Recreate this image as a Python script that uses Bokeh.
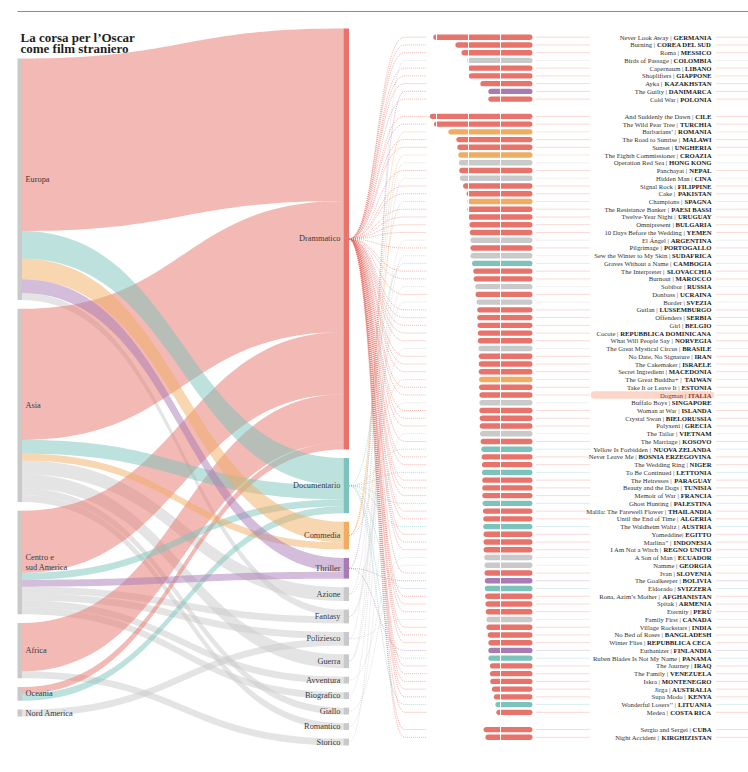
import numpy as np
from bokeh.plotting import figure
from bokeh.models import Range1d
from bokeh.core.properties import value
from bokeh.embed import file_html
from bokeh.resources import INLINE

# ---------------- data ----------------
titles = [
    "Never Look Away", "Burning", "Roma", "Birds of Passage", "Capernaum", "Shoplifters", "Ayka",
    "The Guilty", "Cold War",
    "And Suddenly the Dawn", "The Wild Pear Tree", "Barbarians’", "The Road to Sunrise", "Sunset",
    "The Eighth Commissioner", "Operation Red Sea", "Panchayat", "Hidden Man", "Signal Rock", "Cake",
    "Champions", "The Resistance Banker", "Twelve-Year Night", "Omnipresent",
    "10 Days Before the Wedding", "El Ángel", "Pilgrimage", "Sew the Winter to My Skin",
    "Graves Without a Name", "The Interpreter", "Burnout", "Sobibor", "Donbass", "Border", "Gutlan",
    "Offenders", "Girl", "Cocote", "What Will People Say", "The Great Mystical Circus",
    "No Date, No Signature", "The Cakemaker", "Secret Ingredient", "The Great Buddha+",
    "Take It or Leave It", "Dogman", "Buffalo Boys", "Woman at War", "Crystal Swan", "Polyxeni",
    "The Tailor", "The Marriage", "Yellow Is Forbidden", "Never Leave Me", "The Wedding Ring",
    "To Be Continued", "The Heiresses", "Beauty and the Dogs", "Memoir of War", "Ghost Hunting",
    "Malila: The Farewell Flower", "Until the End of Time", "The Waldheim Waltz", "Yomeddine",
    "Marlina’’", "I Am Not a Witch", "A Son of Man", "Namme", "Ivan", "The Goalkeeper", "Eldorado",
    "Rona, Azim’s Mother", "Spitak", "Eternity", "Family First", "Village Rockstars",
    "No Bed of Roses", "Winter Flies", "Euthanizer", "Ruben Blades Is Not My Name", "The Journey",
    "The Family", "Iskra", "Jirga", "Supa Modo", "Wonderful Losers’’", "Medea",
    "Sergio and Sergei", "Night Accident",
]
countries = [
    "GERMANIA", "COREA DEL SUD", "MESSICO", "COLOMBIA", "LIBANO", "GIAPPONE", "KAZAKHSTAN",
    "DANIMARCA", "POLONIA",
    "CILE", "TURCHIA", "ROMANIA", "MALAWI", "UNGHERIA", "CROAZIA", "HONG KONG", "NEPAL", "CINA",
    "FILIPPINE", "PAKISTAN", "SPAGNA", "PAESI BASSI", "URUGUAY", "BULGARIA", "YEMEN", "ARGENTINA",
    "PORTOGALLO", "SUDAFRICA", "CAMBOGIA", "SLOVACCHIA", "MAROCCO", "RUSSIA", "UCRAINA", "SVEZIA",
    "LUSSEMBURGO", "SERBIA", "BELGIO", "REPUBBLICA DOMINICANA", "NORVEGIA", "BRASILE", "IRAN",
    "ISRAELE", "MACEDONIA", "TAIWAN", "ESTONIA", "ITALIA", "SINGAPORE", "ISLANDA", "BIELORUSSIA",
    "GRECIA", "VIETNAM", "KOSOVO", "NUOVA ZELANDA", "BOSNIA ERZEGOVINA", "NIGER", "LETTONIA",
    "PARAGUAY", "TUNISIA", "FRANCIA", "PALESTINA", "THAILANDIA", "ALGERIA", "AUSTRIA", "EGITTO",
    "INDONESIA", "REGNO UNITO", "ECUADOR", "GEORGIA", "SLOVENIA", "BOLIVIA", "SVIZZERA",
    "AFGHANISTAN", "ARMENIA", "PERÙ", "CANADA", "INDIA", "BANGLADESH", "REPUBBLICA CECA",
    "FINLANDIA", "PANAMA", "IRAQ", "VENEZUELA", "MONTENEGRO", "AUSTRALIA", "KENYA", "LITUANIA",
    "COSTA RICA",
    "CUBA", "KIRGHIZISTAN",
]
# E Europa, A Asia, C Centro e sud America, F Africa, O Oceania, N Nord America
continents = [
    "E", "A", "C", "C", "A", "A", "A", "E", "E",
    "C", "A", "E", "F", "E", "E", "A", "A", "A", "A", "A", "E", "E", "C", "E", "A", "C", "E", "F",
    "A", "E", "F", "A", "E", "E", "E", "E", "E", "C", "E", "C", "A", "A", "E", "A", "E", "E", "A",
    "E", "E", "E", "A", "E", "O", "E", "F", "E", "C", "F", "E", "A", "A", "F", "E", "F", "A", "E",
    "C", "A", "E", "C", "E", "A", "A", "C", "N", "A", "A", "E", "E", "C", "A", "C", "E", "O", "F",
    "E", "C",
    "C", "A",
]
genres = [
    "Drammatico", "Drammatico", "Drammatico", "Poliziesco", "Drammatico", "Drammatico",
    "Drammatico", "Thriller", "Drammatico",
    "Drammatico", "Drammatico", "Commedia", "Drammatico", "Drammatico", "Commedia", "Azione",
    "Drammatico", "Guerra", "Drammatico", "Drammatico", "Commedia", "Drammatico", "Drammatico",
    "Drammatico", "Drammatico", "Biografico", "Drammatico", "Storico", "Documentario",
    "Drammatico", "Drammatico", "Guerra", "Drammatico", "Fantasy", "Drammatico", "Drammatico",
    "Drammatico", "Drammatico", "Drammatico", "Fantasy", "Drammatico", "Drammatico", "Drammatico",
    "Commedia", "Drammatico", "Drammatico", "Azione", "Drammatico", "Drammatico", "Drammatico",
    "Romantico", "Drammatico", "Documentario", "Drammatico", "Drammatico", "Documentario",
    "Drammatico", "Drammatico", "Drammatico", "Documentario", "Drammatico", "Drammatico",
    "Documentario", "Drammatico", "Drammatico", "Drammatico", "Avventura", "Giallo", "Drammatico",
    "Thriller", "Documentario", "Drammatico", "Drammatico", "Drammatico", "Poliziesco",
    "Drammatico", "Drammatico", "Drammatico", "Thriller", "Documentario", "Drammatico",
    "Drammatico", "Drammatico", "Drammatico", "Drammatico", "Documentario", "Drammatico",
    "Drammatico", "Drammatico",
]
scores = [
    3.10, 2.41, 2.22, 2.04, 2.01, 1.99, 1.63, 1.38, 1.38,
    3.21, 3.08, 2.63, 2.38, 2.35, 2.32, 2.30, 2.29, 2.27, 2.17, 2.06, 2.03, 2.03, 2.01, 1.97, 1.96,
    1.94, 1.94, 1.94, 1.89, 1.85, 1.84, 1.79, 1.78, 1.75, 1.73, 1.73, 1.72, 1.71, 1.71, 1.69, 1.68,
    1.68, 1.68, 1.67, 1.67, 1.66, 1.66, 1.66, 1.65, 1.65, 1.64, 1.62, 1.60, 1.59, 1.58, 1.58, 1.57,
    1.57, 1.57, 1.56, 1.55, 1.54, 1.54, 1.53, 1.53, 1.53, 1.51, 1.50, 1.50, 1.49, 1.49, 1.48, 1.47,
    1.46, 1.44, 1.44, 1.40, 1.38, 1.38, 1.38, 1.33, 1.33, 1.32, 1.27, 1.21, 1.16, 1.13,
    1.53, 1.47,
]
groups = [0] * 9 + [1] * 78 + [2] * 2
highlight = "ITALIA"

continent_codes = ["E", "A", "C", "F", "O", "N"]
continent_labels = [["Europa"], ["Asia"], ["Centro e", "sud America"], ["Africa"], ["Oceania"],
                    ["Nord America"]]
genre_names = ["Drammatico", "Documentario", "Commedia", "Thriller", "Azione", "Fantasy",
               "Poliziesco", "Guerra", "Avventura", "Biografico", "Giallo", "Romantico", "Storico"]
genre_colors = {"Drammatico": "#e8736a", "Documentario": "#7cc4bb", "Commedia": "#f0ad62",
                "Thriller": "#a87bb5"}
GRAY = "#c9c9c9"

assert len(titles) == len(countries) == len(continents) == len(genres) == len(scores) == len(groups)

def gcol(g):
    return genre_colors.get(g, GRAY)

# ---------------- text width helpers (Times metrics = Liberation Serif) ----------------
TR = dict(zip("ABCDEFGHIJKLMNOPQRSTUVWXYZ",
              [722, 667, 667, 722, 611, 556, 722, 722, 333, 389, 722, 611, 889, 722, 722, 556, 722,
               667, 556, 611, 722, 722, 944, 722, 722, 611]))
TR.update(dict(zip("abcdefghijklmnopqrstuvwxyz",
                   [444, 500, 444, 500, 444, 333, 500, 500, 278, 278, 500, 278, 778, 500, 500, 500,
                    500, 333, 389, 278, 500, 500, 722, 500, 500, 444])))
TR.update({" ": 250, "|": 200, "’": 333, "'": 333, ",": 250, ":": 278, "-": 333, "+": 564,
           ".": 250, "Á": 722})
for d in "0123456789":
    TR[d] = 500
TB = dict(zip("ABCDEFGHIJKLMNOPQRSTUVWXYZ",
              [722, 667, 722, 722, 667, 611, 778, 778, 389, 500, 778, 667, 944, 722, 778, 611, 778,
               722, 556, 667, 722, 722, 1000, 722, 722, 667]))
TB.update({" ": 250, "Ù": 722})

def tw(s, table, size):
    return sum(table.get(ch, 500) for ch in s) * size / 1000.0

# ---------------- figure ----------------
W, H = 748, 764
p = figure(width=W, height=H, x_range=Range1d(0, W), y_range=Range1d(H, 0),
           output_backend="svg", toolbar_location=None, x_axis_type=None, y_axis_type=None,
           min_border=0)
p.grid.visible = False
p.outline_line_color = None
p.background_fill_color = "white"
p.border_fill_color = "white"

FONT = value("Liberation Serif")

# top rule
p.segment(x0=[17], x1=[748], y0=[11], y1=[11], line_color="#8c8c8c", line_width=1)

# title
p.text(x=[20, 20], y=[37, 48], text=["La corsa per l’Oscar", "come film straniero"],
       text_font=FONT, text_font_size="13px", text_font_style="bold", text_color="#1e1e1e",
       text_baseline="alphabetic")

# ---------------- sankey layout ----------------
UNIT = 6.9
XL0, XL1 = 17, 21.5      # continent nodes
XR0, XR1 = 343, 348.5    # genre nodes

cont_count = [sum(1 for c in continents if c == k) for k in continent_codes]
gen_count = [sum(1 for g in genres if g == k) for k in genre_names]

def stack(counts, top, bottom):
    gap = (bottom - top - UNIT * sum(counts)) / (len(counts) - 1)
    tops, y = [], top
    for c in counts:
        tops.append(y)
        y += c * UNIT + gap
    return tops

ltop = stack(cont_count, 58, 716)
rtop = stack(gen_count, 28, 745)

M = np.zeros((len(continent_codes), len(genre_names)), dtype=int)
for c, g in zip(continents, genres):
    M[continent_codes.index(c), genre_names.index(g)] += 1

def bez(x0, y0, x1, y1, n=48):
    t = np.linspace(0, 1, n)
    xm = (x0 + x1) / 2
    x = (1 - t) ** 3 * x0 + 3 * (1 - t) ** 2 * t * xm + 3 * (1 - t) * t ** 2 * xm + t ** 3 * x1
    y = (1 - t) ** 3 * y0 + 3 * (1 - t) ** 2 * t * y0 + 3 * (1 - t) * t ** 2 * y1 + t ** 3 * y1
    return x, y

loff = list(ltop)
roff = list(rtop)
left_start = {}
for i in range(len(continent_codes)):
    for j in range(len(genre_names)):
        if M[i, j]:
            left_start[(i, j)] = loff[i]
            loff[i] += M[i, j] * UNIT
fxs, fys, fcol = [], [], []
for j in range(len(genre_names)):
    for i in range(len(continent_codes)):
        if M[i, j]:
            h = M[i, j] * UNIT
            ly, ry = left_start[(i, j)], roff[j]
            roff[j] += h
            xt, yt = bez(XL1, ly, XR0, ry)
            xb, yb = bez(XL1, ly + h, XR0, ry + h)
            fxs.append(list(np.concatenate([xt, xb[::-1]])))
            fys.append(list(np.concatenate([yt, yb[::-1]])))
            fcol.append(gcol(genre_names[j]))
order = sorted(range(len(fxs)), key=lambda k: 0 if fcol[k] == GRAY else 1)
p.patches(xs=[fxs[k] for k in order], ys=[fys[k] for k in order],
          fill_color=[fcol[k] for k in order], fill_alpha=0.5, line_color=None)

# nodes
p.quad(left=XL0, right=XL1, top=ltop, bottom=[t + c * UNIT for t, c in zip(ltop, cont_count)],
       fill_color=GRAY, line_color=None)
p.quad(left=XR0, right=XR1, top=rtop, bottom=[t + c * UNIT for t, c in zip(rtop, gen_count)],
       fill_color=[gcol(g) for g in genre_names], line_color=None)

# node labels
lx, ly_, lt = [], [], []
for t, c, labs in zip(ltop, cont_count, continent_labels):
    mid = t + c * UNIT / 2
    for k, s in enumerate(labs):
        lx.append(25)
        ly_.append(mid + (k - (len(labs) - 1) / 2) * 10.5)
        lt.append(s)
p.text(x=lx, y=ly_, text=lt, text_font=FONT, text_font_size="8.3px", text_color="#3a3a3a",
       text_baseline="middle", text_align="left")
p.text(x=[XR0 - 3] * len(genre_names), y=[t + c * UNIT / 2 for t, c in zip(rtop, gen_count)],
       text=genre_names, text_font=FONT, text_font_size="8.3px", text_color="#3a3a3a",
       text_baseline="middle", text_align="right")

# ---------------- list ----------------
Y0, PITCH, GGAP = 36.7, 7.74, 9.5
rows_y = [Y0 + i * PITCH + g * GGAP for i, g in enumerate(groups)]
colors = [gcol(g) for g in genres]

# dotted connectors from genre node to each row
gcenter = {g: t + c * UNIT / 2 for g, t, c in zip(genre_names, rtop, gen_count)}
cxs, cys = [], []
for g, ry in zip(genres, rows_y):
    xb_, yb_ = bez(XR1, gcenter[g], 404, ry, 40)
    cxs.append(list(xb_) + [426])
    cys.append(list(yb_) + [ry])
p.multi_line(xs=cxs, ys=cys, line_color=colors, line_width=0.6, line_dash="1 1", line_alpha=0.9)

# dotted lines right of bars and right of labels
p.segment(x0=[536] * len(rows_y), x1=[590] * len(rows_y), y0=rows_y, y1=rows_y,
          line_color=colors, line_width=0.6, line_dash="1 1", line_alpha=0.9)
p.segment(x0=[716] * len(rows_y), x1=[748] * len(rows_y), y0=rows_y, y1=rows_y,
          line_color=colors, line_width=0.6, line_dash="1 1", line_alpha=0.9)

# bars (rounded), right-aligned
BAR_END, PX_PER_UNIT, BAR_W = 532, 32, 5.4
r = BAR_W / 2
p.segment(x0=[BAR_END - s * PX_PER_UNIT + r for s in scores], x1=[BAR_END - r] * len(scores),
          y0=rows_y, y1=rows_y, line_color=colors, line_width=BAR_W, line_cap="round")
ticks = [BAR_END - k * PX_PER_UNIT for k in (1, 2, 3)]
p.segment(x0=ticks, x1=ticks, y0=[rows_y[0] - 4] * 3, y1=[rows_y[-1] + 4] * 3,
          line_color="white", line_width=1)

# highlight pill
hi = [k for k, c in enumerate(countries) if c == highlight]
p.segment(x0=[594] * len(hi), x1=[710] * len(hi), y0=[rows_y[k] for k in hi],
          y1=[rows_y[k] for k in hi], line_color="#fbd6c9", line_width=7.5, line_cap="round")

# labels: "Title |" normal + COUNTRY bold, right aligned
TX, FS = 711, 6.7
bold_w = [tw(c, TB, FS) for c in countries]
norm_text = [t + ("|" if t == "Yomeddine" else " |") for t in titles]
tcol = ["#8a3b2f" if c == highlight else "#333333" for c in countries]
bcol = ["#8a3b2f" if c == highlight else "#1a1a1a" for c in countries]
p.text(x=[TX - w - 250 * FS / 1000 for w in bold_w], y=rows_y, text=norm_text, text_font=FONT,
       text_font_size=f"{FS}px", text_color=tcol, text_align="right", text_baseline="middle")
p.text(x=[TX] * len(countries), y=rows_y, text=countries, text_font=FONT,
       text_font_size=f"{FS}px", text_font_style="bold", text_color=bcol, text_align="right",
       text_baseline="middle")

open("out.html", "w").write(file_html(p, INLINE))
